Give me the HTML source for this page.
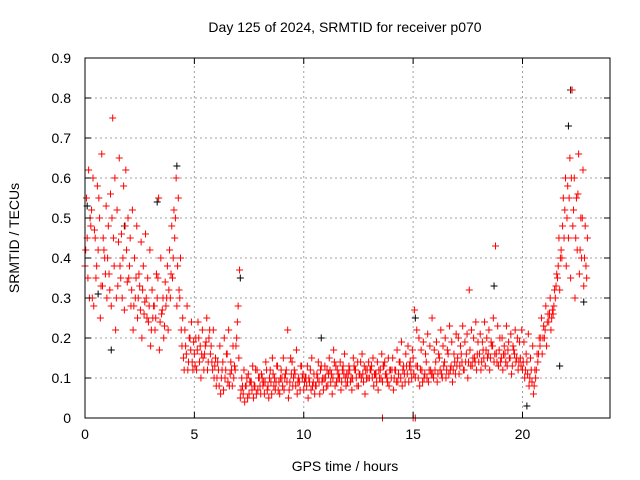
<!DOCTYPE html>
<html><head><meta charset="utf-8"><style>
body{margin:0;background:#fff}
svg{display:block;font-family:"Liberation Sans",sans-serif}
</style></head><body>
<svg id="chart" width="640" height="480" viewBox="0 0 640 480">
<rect width="640" height="480" fill="#fff"/>
<text x="345" y="32" font-size="14" text-anchor="middle">Day 125 of 2024, SRMTID for receiver p070</text>
<text x="345" y="471" font-size="14" text-anchor="middle">GPS time / hours</text>
<text x="19" y="238" font-size="14" text-anchor="middle" transform="rotate(-90 19 238)">SRMTID / TECUs</text>
<g id="grid"></g><g id="marks"></g><g id="axes"></g>
</svg>
<script>
const xTicks=[0,5,10,15,20];
const yTicks=[0,0.1,0.2,0.3,0.4,0.5,0.6,0.7,0.8,0.9];
const valsA=[.38,.45,.30,.52,.28,.35,.42,.25,.33,.40,
.30,.36,.28,.45,.22,.33,.38,.30,.27,.42,
.35,.28,.22,.30,.25,.33,.20,.26,.30,.24,
.18,.25,.22,.30,.17,.26,.20,.28,.22,.30,
.35,.45,.28,.32,.22,.15,.18,.12,.20,.14,
.16,.12,.20,.10,.15,.18,.12,.22,.14,.10,
.08,.12,.06,.14,.10,.16,.08,.12,.10,.18,
.28,.05,.08,.04,.10,.06,.09,.05,.12,.07,
.08,.10,.06,.12,.05,.09,.11,.07,.13,.06,
.10,.07,.12,.05,.15,.08,.11,.06,.09,.13,
.07,.10,.05,.12,.08,.06,.11,.09,.13,.07,
.10,.08,.12,.06,.14,.09,.11,.07,.13,.10,
.09,.12,.07,.13,.10,.08,.14,.11,.06,.12,
.10,.13,.08,.11,.07,.12,.09,.14,.10,.08,
.10,.07,.12,.09,.14,.08,.11,.13,.09,.12,
.15,.10,.13,.08,.12,.10,.14,.09,.12,.11,
.12,.09,.15,.11,.13,.10,.16,.12,.09,.14,
.13,.11,.16,.12,.14,.10,.17,.13,.15,.12,
.14,.12,.17,.13,.15,.12,.18,.14,.16,.13,
.14,.12,.16,.13,.15,.11,.17,.14,.12,.15,
.12,.10,.14,.08,.12,.06,.10,.14,.18,.16,
.20,.18,.24,.22,.26,.30,.35,.32,.40,.45,
.38,.45,.35,.48,.30,.42,.36,.40,.33,.38];
const valsB=[.55,.62,.48,.60,.45,.58,.50,.66,.42,.53,
.48,.56,.75,.60,.52,.65,.46,.58,.62,.50,
.45,.52,.40,.48,.36,.44,.38,.46,.35,.42,
.32,.28,.36,.55,.40,.30,.34,.38,.42,.48,
.52,.60,.55,.40,.25,.22,.28,.20,.24,.19,
.20,.24,.18,.22,.16,.25,.20,.18,.22,.15,
.14,.18,.12,.20,.16,.22,.14,.18,.12,.24,
.37,.10,.12,.08,.11,.09,.13,.08,.12,.10,
.11,.09,.14,.08,.12,.15,.10,.13,.09,.12,
.15,.11,.22,.09,.14,.12,.17,.10,.13,.11,
.10,.13,.09,.15,.11,.08,.14,.12,.10,.13,
.12,.15,.11,.17,.13,.10,.14,.12,.16,.11,
.13,.10,.15,.12,.14,.11,.16,.13,.10,.14,
.12,.15,.11,.14,.10,.16,.13,.11,.15,.12,
.15,.12,.17,.14,.19,.13,.16,.18,.14,.17,
.27,.22,.20,.17,.19,.16,.21,.18,.25,.17,
.19,.16,.22,.18,.20,.17,.23,.19,.16,.21,
.20,.18,.23,.19,.21,.32,.22,.20,.24,.19,
.21,.19,.24,.20,.22,.19,.25,.43,.23,.20,
.20,.18,.23,.19,.21,.18,.22,.20,.19,.22,
.19,.16,.21,.15,.18,.12,.16,.20,.25,.23,
.28,.26,.30,.27,.32,.36,.45,.42,.55,.60,
.58,.65,.82,.60,.55,.66,.50,.62,.48,.45];
const valsC=[.42,.35,.50,.30,.47,.38,.55,.33,.45,.36,
.40,.32,.50,.38,.30,.44,.35,.40,.48,.34,
.38,.32,.28,.35,.30,.27,.32,.29,.25,.28,
.22,.28,.25,.35,.24,.27,.23,.30,.32,.36,
.40,.50,.38,.30,.18,.12,.16,.14,.17,.12,
.13,.17,.14,.16,.12,.19,.14,.16,.12,.13,
.10,.08,.10,.07,.12,.09,.11,.08,.13,.20,
.15,.07,.06,.08,.05,.09,.07,.08,.06,.10,
.06,.08,.09,.07,.10,.06,.08,.09,.07,.10,
.08,.10,.09,.07,.11,.10,.08,.09,.07,.10,
.09,.08,.10,.07,.09,.08,.10,.06,.09,.10,
.08,.11,.09,.10,.08,.12,.10,.09,.11,.08,
.11,.09,.10,.12,.08,.11,.10,.09,.12,.10,
.12,.10,.11,.09,.12,.10,.13,.11,.09,.12,
.12,.10,.09,.11,.10,.12,.09,.11,.13,.10,
.11,.13,.10,.12,.09,.11,.10,.12,.11,.10,
.14,.11,.12,.10,.14,.12,.11,.13,.12,.11,
.15,.13,.14,.12,.16,.14,.13,.15,.14,.16,
.16,.14,.15,.17,.16,.15,.18,.16,.14,.17,
.15,.16,.14,.17,.15,.13,.16,.15,.14,.13,
.14,.12,.11,.10,.09,.08,.12,.16,.20,.20,
.22,.24,.26,.25,.28,.33,.38,.40,.48,.52,
.50,.55,.60,.52,.45,.56,.42,.50,.40,.35];
const blackTimes=[0.1,0.6,1.2,1.8,3.3,4.2,7.1,10.8,15.1,18.7,20.2,21.7,22.1,22.2,22.8];
const blackVals=[0.53,0.31,0.17,0.48,0.54,0.63,0.35,0.20,0.25,0.33,0.03,0.13,0.73,0.82,0.29];
const zeroTimes=[13.6,15.0,15.1];
const X0=85,X1=610,Y0=418,Y1=58,XMAX=24,YMAX=0.9;
const sx=t=>X0+(X1-X0)*t/XMAX;
const sy=v=>Y0-(Y0-Y1)*v/YMAX;
const NS="http://www.w3.org/2000/svg";
const grid=document.getElementById('grid'),marks=document.getElementById('marks'),axes=document.getElementById('axes');
function mk(tag,attrs,parent){const e=document.createElementNS(NS,tag);for(const k in attrs)e.setAttribute(k,attrs[k]);parent.appendChild(e);return e;}
xTicks.forEach(t=>{
 if(t>0){const g=mk('line',{x1:sx(t),x2:sx(t),y1:Y0,y2:Y1,stroke:'#a0a0a0','stroke-dasharray':'2,3'},grid);
 
 }
 mk('line',{x1:sx(t),x2:sx(t),y1:Y0,y2:Y0-6,stroke:'#000'},axes);
 mk('line',{x1:sx(t),x2:sx(t),y1:Y1,y2:Y1+6,stroke:'#000'},axes);
 const l=mk('text',{x:sx(t),y:Y0+21,'font-size':14,'text-anchor':'middle'},axes);l.textContent=t;
 
 
});
yTicks.forEach(v=>{
 if(v>0&&v<0.9){const g=mk('line',{x1:X0,x2:X1,y1:sy(v),y2:sy(v),stroke:'#a0a0a0','stroke-dasharray':'2,3'},grid);
 
 }
 mk('line',{x1:X0,x2:X0+6,y1:sy(v),y2:sy(v),stroke:'#000'},axes);
 mk('line',{x1:X1,x2:X1-6,y1:sy(v),y2:sy(v),stroke:'#000'},axes);
 const l=mk('text',{x:X0-14,y:sy(v)+5,'font-size':14,'text-anchor':'end'},axes);l.textContent=(v===0?'0':v.toFixed(1));
 
 
});
const frame=mk('rect',{x:X0,y:Y1,width:X1-X0,height:Y0-Y1,fill:'none',stroke:'#000'},axes);


function plus(t,v,c,name){const x=sx(t),y=sy(v);
 const p=mk('path',{d:`M${x-3.5},${y}h7M${x},${y-3.5}v7`,stroke:c,'stroke-width':1,fill:'none'},marks);
 
 }
blackTimes.forEach((t,i)=>plus(t,blackVals[i],'#000','black-point'));
valsA.forEach((v,i)=>plus(i*0.1,v,'#ff0000','red-point'));
valsC.forEach((v,i)=>plus(i*0.1+0.033,v,'#ff0000','red-point'));
valsB.forEach((v,i)=>plus(i*0.1+0.066,v,'#ff0000','red-point'));
zeroTimes.forEach(t=>plus(t,0,'#ff0000','red-point'));
</script>
</body></html>
